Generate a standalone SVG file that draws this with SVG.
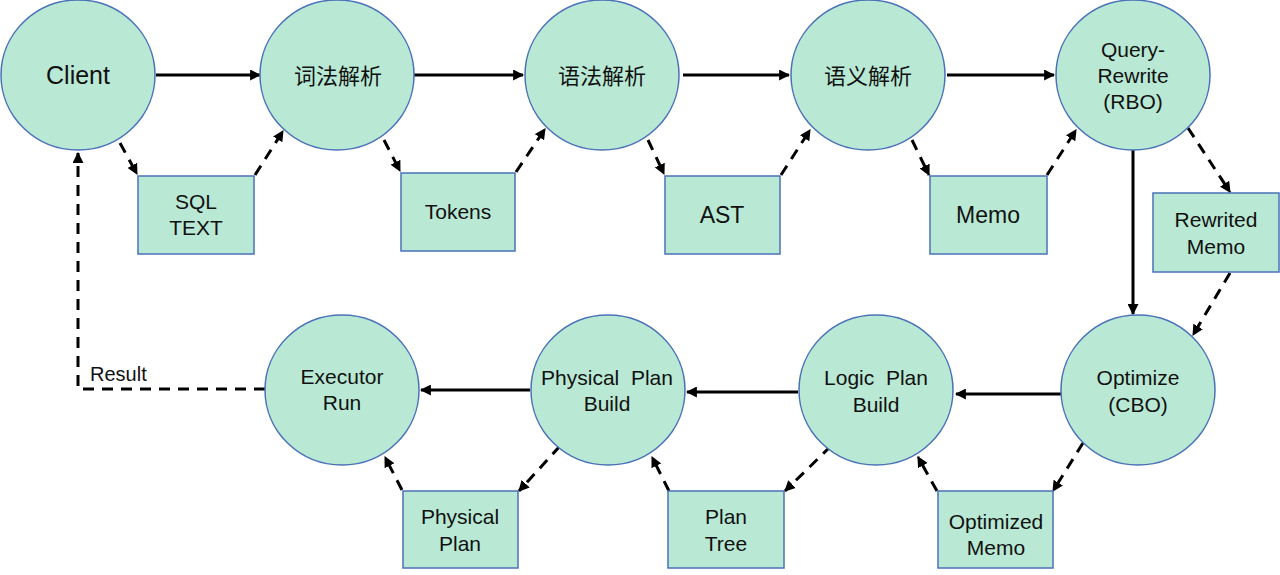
<svg xmlns="http://www.w3.org/2000/svg" width="1280" height="575" viewBox="0 0 1280 575">
<style>
.n{fill:#B9E9D4;stroke:#4A72B8;stroke-width:1.5}
.t{font-family:"Liberation Sans","Noto Sans CJK SC",sans-serif;font-size:21px;fill:#111;text-anchor:middle}
.c{font-size:22px}
.s{fill:none;stroke:#000;stroke-width:3}
.d{fill:none;stroke:#000;stroke-width:3;stroke-dasharray:11 8}
</style>
<defs>
<marker id="a" viewBox="0 0 10 10" refX="9" refY="5" markerWidth="11" markerHeight="11" markerUnits="userSpaceOnUse" orient="auto">
<path d="M0,0 L10,5 L0,10 Z" fill="#000"/>
</marker>
</defs>
<rect width="1280" height="575" fill="#fff"/>
<g id="connectors">
<line class="s" x1="156" y1="75" x2="260" y2="75" marker-end="url(#a)"/>
<line class="s" x1="414" y1="75" x2="523" y2="75" marker-end="url(#a)"/>
<line class="s" x1="683" y1="75" x2="789" y2="75" marker-end="url(#a)"/>
<line class="s" x1="947" y1="75" x2="1054" y2="75" marker-end="url(#a)"/>
<line class="s" x1="1133" y1="150" x2="1133" y2="314" marker-end="url(#a)"/>
<line class="s" x1="1061" y1="394" x2="956" y2="394" marker-end="url(#a)"/>
<line class="s" x1="798" y1="392" x2="687" y2="392" marker-end="url(#a)"/>
<line class="s" x1="530" y1="390" x2="421" y2="390" marker-end="url(#a)"/>
<line class="d" x1="120" y1="143" x2="137" y2="174" marker-end="url(#a)"/>
<line class="d" x1="255" y1="175" x2="283" y2="131" marker-end="url(#a)"/>
<line class="d" x1="384" y1="140" x2="400" y2="171" marker-end="url(#a)"/>
<line class="d" x1="516" y1="172" x2="545" y2="129" marker-end="url(#a)"/>
<line class="d" x1="648" y1="140" x2="664" y2="174" marker-end="url(#a)"/>
<line class="d" x1="781" y1="175" x2="810" y2="130" marker-end="url(#a)"/>
<line class="d" x1="912" y1="140" x2="929" y2="175" marker-end="url(#a)"/>
<line class="d" x1="1047" y1="175" x2="1076" y2="130" marker-end="url(#a)"/>
<line class="d" x1="1188" y1="128" x2="1230" y2="192" marker-end="url(#a)"/>
<line class="d" x1="1230" y1="273" x2="1193" y2="335" marker-end="url(#a)"/>
<line class="d" x1="1083" y1="443" x2="1053" y2="491" marker-end="url(#a)"/>
<line class="d" x1="937" y1="491" x2="918" y2="457" marker-end="url(#a)"/>
<line class="d" x1="831" y1="446" x2="785" y2="491" marker-end="url(#a)"/>
<line class="d" x1="669" y1="491" x2="652" y2="457" marker-end="url(#a)"/>
<line class="d" x1="560" y1="446" x2="519" y2="491" marker-end="url(#a)"/>
<line class="d" x1="402" y1="490" x2="385" y2="457" marker-end="url(#a)"/>
<polyline class="d" points="265,389 78,389 78,153" marker-end="url(#a)"/>
<text class="t" x="90" y="381" style="text-anchor:start;font-size:20px">Result</text>
</g>
<g id="client"><ellipse class="n" cx="78" cy="75" rx="77" ry="75"/><text class="t" x="78" y="84" style="font-size:25px">Client</text></g>
<g id="lex"><ellipse class="n" cx="337" cy="75" rx="77" ry="75"/><text class="t c" x="338" y="84">词法解析</text></g>
<g id="syntax"><ellipse class="n" cx="602" cy="75" rx="77" ry="75"/><text class="t c" x="602" y="84">语法解析</text></g>
<g id="semantic"><ellipse class="n" cx="868" cy="75" rx="77" ry="75"/><text class="t c" x="868" y="84">语义解析</text></g>
<g id="rewrite"><ellipse class="n" cx="1133" cy="75" rx="77" ry="75"/><text class="t" x="1133" y="57">Query-</text><text class="t" x="1133" y="83">Rewrite</text><text class="t" x="1133" y="109">(RBO)</text></g>
<g id="optimize"><ellipse class="n" cx="1138" cy="390" rx="77" ry="75"/><text class="t" x="1138" y="385">Optimize</text><text class="t" x="1138" y="412">(CBO)</text></g>
<g id="logic"><ellipse class="n" cx="876" cy="390" rx="77" ry="75"/><text class="t" x="876" y="385" xml:space="preserve">Logic  Plan</text><text class="t" x="876" y="412">Build</text></g>
<g id="physical"><ellipse class="n" cx="608" cy="390" rx="77" ry="75"/><text class="t" x="607" y="385" xml:space="preserve">Physical  Plan</text><text class="t" x="607" y="411">Build</text></g>
<g id="executor"><ellipse class="n" cx="342" cy="390" rx="77" ry="75"/><text class="t" x="342" y="384">Executor</text><text class="t" x="342" y="410">Run</text></g>
<g id="sqltext"><rect class="n" x="138" y="176" width="116" height="78"/><text class="t" x="196" y="209">SQL</text><text class="t" x="196" y="235">TEXT</text></g>
<g id="tokens"><rect class="n" x="401" y="173" width="114" height="78"/><text class="t" x="458" y="219">Tokens</text></g>
<g id="ast"><rect class="n" x="665" y="176" width="115" height="78"/><text class="t" x="722" y="223" style="font-size:23px">AST</text></g>
<g id="memo"><rect class="n" x="930" y="176" width="117" height="78"/><text class="t" x="988" y="223" style="font-size:23px">Memo</text></g>
<g id="rewritedmemo"><rect class="n" x="1153" y="193" width="126" height="79"/><text class="t" x="1216" y="227">Rewrited</text><text class="t" x="1216" y="254">Memo</text></g>
<g id="optimizedmemo"><rect class="n" x="938" y="491" width="115" height="77"/><text class="t" x="996" y="529">Optimized</text><text class="t" x="996" y="555">Memo</text></g>
<g id="plantree"><rect class="n" x="668" y="491" width="116" height="77"/><text class="t" x="726" y="524">Plan</text><text class="t" x="726" y="551">Tree</text></g>
<g id="physicalplan"><rect class="n" x="403" y="491" width="115" height="77"/><text class="t" x="460" y="524">Physical</text><text class="t" x="460" y="551">Plan</text></g>
</svg>
